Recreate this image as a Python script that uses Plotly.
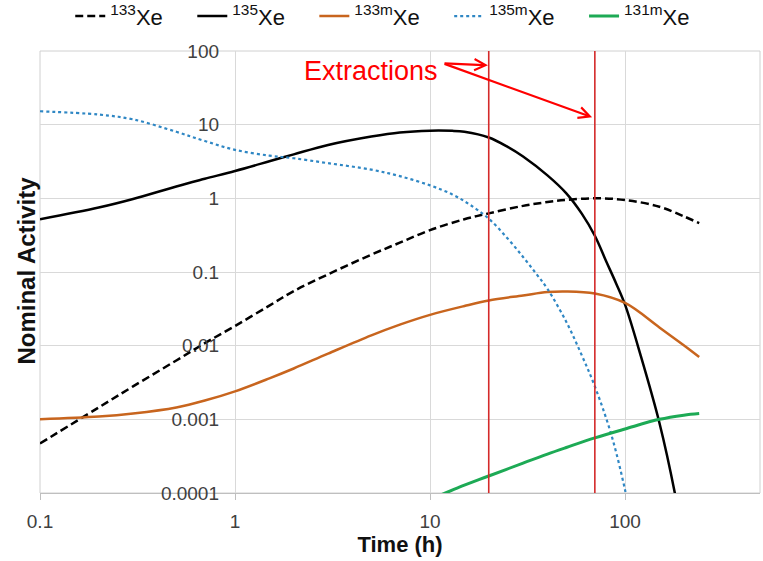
import plotly.graph_objects as go

# Time after production (h) and nominal activity of each xenon isotope
t_133xe = [0.1, 0.2, 0.3, 0.5, 0.7, 1, 1.5, 2, 3, 5, 7, 10, 15, 20, 30, 40, 50, 70, 100, 150, 200, 240]
a_133xe = [0.00047, 0.00145, 0.0028, 0.0063, 0.0108, 0.0185, 0.035, 0.055, 0.093, 0.172, 0.25, 0.37,
           0.52, 0.625, 0.79, 0.89, 0.95, 1.0, 0.95, 0.77, 0.57, 0.46]

t_135xe = [0.1, 0.2, 0.3, 0.5, 0.7, 1, 1.5, 2, 3, 5, 7, 10, 13, 15, 20, 25, 30, 40, 50, 60, 70, 80, 90,
           100, 120, 150, 180, 200]
a_135xe = [0.52, 0.75, 0.98, 1.45, 1.84, 2.35, 3.18, 3.95, 5.3, 6.9, 7.85, 8.3, 8.25, 8.0, 6.7, 5.0, 3.7,
           2.05, 1.17, 0.62, 0.31, 0.14, 0.07, 0.036, 0.0075, 0.0009, 0.0001, 0.00002]

t_133mxe = [0.1, 0.2, 0.3, 0.5, 0.7, 1, 1.5, 2, 3, 5, 7, 10, 15, 20, 30, 40, 50, 70, 100, 150, 200, 240]
a_133mxe = [0.001, 0.00109, 0.0012, 0.00145, 0.0018, 0.0024, 0.0036, 0.0049, 0.0078, 0.0138, 0.0193,
            0.0262, 0.0345, 0.041, 0.048, 0.0535, 0.0545, 0.051, 0.038, 0.0177, 0.0101, 0.007]

t_135mxe = [0.1, 0.2, 0.3, 0.5, 0.7, 1, 1.5, 2, 3, 5, 7, 10, 13, 16, 20, 25, 30, 35, 40, 50, 60, 70, 85,
            100, 110]
a_135mxe = [15.2, 13.7, 11.8, 8.0, 6.0, 4.55, 3.8, 3.5, 3.0, 2.45, 2.0, 1.5, 1.13, 0.82, 0.53, 0.285,
            0.16, 0.095, 0.059, 0.021, 0.0074, 0.0028, 0.00062, 0.00011, 0.00003]

t_131mxe = [10, 12, 15, 20, 30, 40, 50, 70, 100, 150, 200, 240]
a_131mxe = [0.000083, 0.0001, 0.000128, 0.00017, 0.000255, 0.000338, 0.000415, 0.00056, 0.00074, 0.001,
            0.00114, 0.0012]

extraction_times = [20, 70]

x_ticks = [0.1, 1, 10, 100]
x_tick_text = ["0.1", "1", "10", "100"]
y_ticks = [1e-4, 1e-3, 1e-2, 0.1, 1, 10, 100]
y_tick_text = ["0.0001", "0.001", "0.01", "0.1", "1", "10", "100"]

FONT = "Liberation Sans, Arial, sans-serif"
PAD = "&nbsp;" * 4  # extra room after each legend entry

fig = go.Figure()

series = [
    ("<sup>133</sup>Xe", t_133xe, a_133xe, "#000000", 2.5, "8px,4px"),
    ("<sup>135</sup>Xe", t_135xe, a_135xe, "#000000", 2.5, "solid"),
    ("<sup>133m</sup>Xe", t_133mxe, a_133mxe, "#C8651E", 2.5, "solid"),
    ("<sup>135m</sup>Xe", t_135mxe, a_135mxe, "#2F87C4", 2.2, "dot"),
    ("<sup>131m</sup>Xe", t_131mxe, a_131mxe, "#1DAA55", 3, "solid"),
]

for name, t, a, color, width, dash in series:
    fig.add_trace(go.Scatter(
        x=t, y=a, mode="lines", name=name + PAD,
        line=dict(color=color, width=width, dash=dash, shape="spline", smoothing=1.0),
    ))

# Vertical markers at the extraction times
for te in extraction_times:
    fig.add_trace(go.Scatter(
        x=[te, te], y=[y_ticks[0], y_ticks[-1]], mode="lines",
        line=dict(color="#D42A2A", width=1.6), showlegend=False, hoverinfo="skip",
    ))

x_range = [-1, 2.692]
y_axis_pos = (0 - x_range[0]) / (x_range[1] - x_range[0])

fig.update_layout(
    width=763, height=561,
    margin=dict(l=40, r=3, t=51, b=68, autoexpand=False),
    paper_bgcolor="white", plot_bgcolor="white",
    font=dict(family=FONT, color="#404040"),
    showlegend=True,
    legend=dict(
        orientation="h", x=0.042, xanchor="left", y=1.0785, yanchor="middle",
        font=dict(size=22, color="#111111", family=FONT),
        bgcolor="rgba(0,0,0,0)", borderwidth=0,
    ),
    xaxis=dict(
        type="log", range=x_range,
        tickvals=x_ticks, ticktext=x_tick_text,
        tickfont=dict(size=19, color="#404040"),
        showgrid=True, gridcolor="#d9d9d9", gridwidth=1,
        showline=True, linecolor="#bfbfbf", linewidth=1,
        ticks="outside", ticklen=6, tickcolor="#bfbfbf",
        ticklabelstandoff=5,
        zeroline=False,
        title=dict(text="Time (h)", font=dict(size=22, color="#111111", weight="bold"), standoff=4),
    ),
    yaxis=dict(
        type="log", range=[-4, 2],
        anchor="free", position=y_axis_pos,
        tickvals=y_ticks, ticktext=y_tick_text,
        tickfont=dict(size=19, color="#404040"),
        showgrid=True, gridcolor="#d9d9d9", gridwidth=1,
        showline=False, ticks="", ticklabelstandoff=16,
        zeroline=False,
    ),
    shapes=[dict(type="rect", xref="paper", yref="paper", x0=0, x1=1, y0=0, y1=1,
                 line=dict(color="#d0d0d0", width=1), layer="below")],
)

annotations = [
    dict(text="Nominal Activity", xref="paper", yref="paper", x=-0.019, y=0.504,
         textangle=-90, showarrow=False, xanchor="center", yanchor="middle",
         font=dict(size=24, color="#111111", family=FONT, weight="bold")),
    dict(text="Extractions", xref="paper", yref="paper", x=0.4597, y=0.954,
         showarrow=False, xanchor="center", yanchor="middle",
         font=dict(size=27, color="#FF0000", family=FONT)),
]
# Arrows from the label to each extraction line (log-axis coordinates)
tail = (1.0667, 1.833)
for head in [(1.297, 1.806), (1.831, 1.10)]:
    annotations.append(dict(
        text="", x=head[0], y=head[1], xref="x", yref="y",
        ax=tail[0], ay=tail[1], axref="x", ayref="y",
        showarrow=True, arrowhead=5, arrowsize=1, arrowwidth=2.2, arrowcolor="#FF0000",
        standoff=0, startstandoff=0,
    ))
fig.update_layout(annotations=annotations)

fig.write_html("out.html")
